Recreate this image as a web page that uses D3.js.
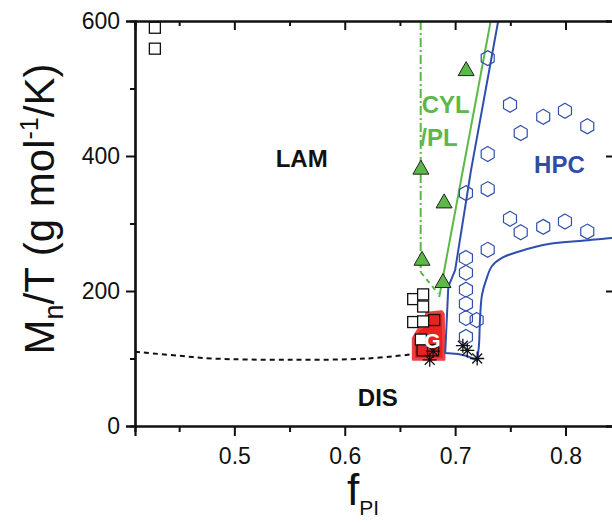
<!DOCTYPE html>
<html><head><meta charset="utf-8">
<script src="https://cdn.jsdelivr.net/npm/d3@7"></script>
<style>
html,body{margin:0;padding:0;background:#fff;}
svg{display:block;}
text{font-family:"Liberation Sans",Arial,sans-serif;}
</style></head>
<body>
<svg id="chart" width="612" height="523"></svg>
<script>
// ---- data ----
const xTicks = [0.5, 0.6, 0.7, 0.8];
const xMinorTicks = [0.45, 0.55, 0.65, 0.75, 0.85];
const yTicks = [0, 200, 400, 600];
const yMinorTicks = [100, 300, 500];

// LAM (open squares)
const lamSquares = [[0.428,590],[0.428,559],[0.662,188],[0.671,195],[0.671,177],[0.662,154],[0.671,155],[0.669,128]];
// squares inside the G region, filled
const gSquares = [[0.681,157],[0.6705,112],[0.680,112]];
// CYL/PL (triangles)
const cylTriangles = [[0.669,382],[0.690,332],[0.670,247],[0.689,214],[0.710,528]];
// HPC (hexagons)
const hpcHexagons = [[0.7295,545],[0.7497,476],[0.7798,458],[0.7995,467],[0.8197,444],[0.7594,434],
  [0.7295,403],[0.7295,351],[0.7098,345],[0.7497,307],[0.7594,287],[0.7798,295],[0.7995,303],[0.8197,288],
  [0.7295,261],[0.7098,249],[0.7098,227],[0.7098,202],[0.7098,181],[0.7098,160],[0.7195,157],[0.7098,132]];
// DIS (asterisks)
const disStars = [[0.707,119],[0.711,112],[0.720,100],[0.677,98],[0.680,111]];

// boundaries
const odtLine = [[0.41,110],[0.45,104],[0.48,100],[0.55,98],[0.62,100],[0.66,106]];
const cylLeftBoundary = [[0.6688,600],[0.6688,228]];
const cylLeftDiag = [[0.6688,228],[0.6847,196]];
const cylRightBoundary = [[0.6856,191],[0.7322,600]];
const hpcLeftBoundary = [[0.739,600],[0.7144,379],[0.700,231],[0.6938,206],[0.691,108],[0.7028,106.7],[0.7104,103.7],[0.7195,97.8]];
const hpcLowerBoundary = [[0.7198,95],[0.7216,120],[0.7225,157],[0.7243,194],[0.728,216],[0.7334,237],[0.7424,249],[0.7587,259],[0.7859,270],[0.813,274],[0.842,278.5],[0.86,280]];
const gRegion = [[0.6621,98.8],[0.6621,129.9],[0.6666,142.2],[0.6727,149.6],[0.6742,166.9],[0.6878,169.3],[0.6893,165.9],[0.6899,98.8]];

const labels = [
  {t:"LAM", x:0.561, y:383, c:"#111"},
  {t:"DIS", x:0.630, y:29, c:"#111"},
  {t:"HPC", x:0.7945, y:375, c:"#2e4da3"}
];

// ---- scales ----
const svg = d3.select("#chart");
const x = d3.scaleLinear().domain([0.41, 0.845]).range([135, 615.2]);
const y = d3.scaleLinear().domain([0, 600]).range([426, 21]);

const BLUE = "#2f4fae", GREEN = "#5cb947", RED = "#e8231f";

svg.append("defs").append("clipPath").attr("id","clip")
  .append("rect").attr("x",135).attr("y",21).attr("width",480).attr("height",405);
const plot = svg.append("g").attr("clip-path","url(#clip)");
const line = d3.line().x(d=>x(d[0])).y(d=>y(d[1]));
const closed = d3.line().x(d=>x(d[0])).y(d=>y(d[1])).curve(d3.curveLinearClosed);
const smooth = d3.line().x(d=>x(d[0])).y(d=>y(d[1])).curve(d3.curveCatmullRom.alpha(0.5));

// G region
plot.append("path").datum(gRegion).attr("d", closed)
  .attr("fill", RED).attr("stroke", "#f04040").attr("stroke-width", 3).attr("stroke-linejoin","round");

// lines
plot.append("path").datum(odtLine).attr("d", smooth).attr("fill","none")
  .attr("stroke","#111").attr("stroke-width",2).attr("stroke-dasharray","5,4");
plot.append("path").datum(cylLeftBoundary).attr("d", line).attr("fill","none")
  .attr("stroke",GREEN).attr("stroke-width",2).attr("stroke-dasharray","9,3,2,3");
plot.append("path").datum(cylLeftDiag).attr("d", line).attr("fill","none")
  .attr("stroke",GREEN).attr("stroke-width",2).attr("stroke-dasharray","5,4");
plot.append("path").datum(cylRightBoundary).attr("d", line).attr("fill","none")
  .attr("stroke",GREEN).attr("stroke-width",2);
plot.append("path").datum(hpcLeftBoundary).attr("d", line).attr("fill","none")
  .attr("stroke",BLUE).attr("stroke-width",2).attr("stroke-linejoin","round");
plot.append("path").datum(hpcLowerBoundary).attr("d", smooth).attr("fill","none")
  .attr("stroke",BLUE).attr("stroke-width",2);

// squares
const sq = 11;
plot.selectAll(".sq").data(lamSquares).join("rect")
  .attr("x", d=>x(d[0])-sq/2).attr("y", d=>y(d[1])-sq/2).attr("width",sq).attr("height",sq)
  .attr("fill","#fff").attr("stroke","#111").attr("stroke-width",1.3);
plot.selectAll(".gsq").data(gSquares).join("rect")
  .attr("x", d=>x(d[0])-sq/2).attr("y", d=>y(d[1])-sq/2).attr("width",sq).attr("height",sq)
  .attr("fill",RED).attr("stroke","#111").attr("stroke-width",1.3);

// hexagons (pointy top)
const hexR = 7.5;
const hexPts = d3.range(6).map(i => { const a = Math.PI/3*i - Math.PI/2; return [hexR*Math.cos(a), hexR*Math.sin(a)]; });
plot.selectAll(".hex").data(hpcHexagons).join("polygon")
  .attr("points", d => hexPts.map(p => [x(d[0])+p[0], y(d[1])+p[1]].join(",")).join(" "))
  .attr("fill","none").attr("stroke",BLUE).attr("stroke-width",1.2);

// triangles
const triPath = "M0,-8 L8,6 L-8,6 Z";
plot.selectAll(".tri").data(cylTriangles).join("path")
  .attr("d", triPath).attr("transform", d=>`translate(${x(d[0])},${y(d[1])})`)
  .attr("fill", GREEN).attr("stroke","#222").attr("stroke-width",1);

// asterisks
const starR = 7;
const starPath = d3.range(4).map(i => { const a = Math.PI/4*i; const c=Math.cos(a)*starR, s=Math.sin(a)*starR; return `M${-c},${-s}L${c},${s}`; }).join("");
plot.selectAll(".star").data(disStars).join("path")
  .attr("d", starPath).attr("transform", d=>`translate(${x(d[0])},${y(d[1])})`)
  .attr("fill","none").attr("stroke","#111").attr("stroke-width",1.3);

// G label
plot.append("text").attr("x", x(0.6795)).attr("y", y(128)+8).attr("text-anchor","middle")
  .attr("font-size",21).attr("font-weight","bold").attr("fill","#fff").text("G");

// region labels
svg.selectAll(".lab").data(labels).join("text")
  .attr("x", d=>x(d.x)).attr("y", d=>y(d.y)).attr("text-anchor","middle")
  .attr("font-size",24).attr("font-weight","bold").attr("fill",d=>d.c).text(d=>d.t);
svg.append("text").attr("x", x(0.6697)).attr("y", y(464)).attr("font-size",24).attr("font-weight","bold")
  .attr("fill",GREEN).text("CYL");
svg.append("text").attr("x", x(0.6685)).attr("y", y(415)).attr("font-size",24).attr("font-weight","bold")
  .attr("fill",GREEN).text("/PL");

// ---- axes ----
svg.append("g").attr("transform","translate(0,426)")
  .call(d3.axisBottom(x).tickValues(xTicks).tickSize(10).tickPadding(12).tickFormat(d3.format(".1f")));
svg.append("g").attr("transform","translate(0,426)")
  .call(d3.axisBottom(x).tickValues(xMinorTicks).tickSize(6).tickFormat(""));
svg.append("g").attr("transform","translate(0,21)")
  .call(d3.axisBottom(x).tickValues(xTicks).tickSize(9).tickFormat(""));
svg.append("g").attr("transform","translate(0,21)")
  .call(d3.axisBottom(x).tickValues(xMinorTicks).tickSize(5).tickFormat(""));
svg.append("g").attr("transform","translate(135,0)")
  .call(d3.axisLeft(y).tickValues(yTicks).tickSize(9).tickPadding(6));
svg.append("g").attr("transform","translate(135,0)")
  .call(d3.axisLeft(y).tickValues(yMinorTicks).tickSize(5).tickFormat(""));
svg.append("g").attr("transform","translate(615,0)")
  .call(d3.axisLeft(y).tickValues(yTicks).tickSize(9).tickFormat(""));
svg.selectAll(".domain").attr("stroke","#111").attr("stroke-width",2.2);
svg.selectAll(".tick line").attr("stroke","#111").attr("stroke-width",2);
svg.selectAll(".tick text").attr("font-size",23).attr("fill","#111").attr("font-family","'Liberation Sans',Arial,sans-serif");

// axis titles
const yl = svg.append("text").attr("transform","translate(54,209) rotate(-90)")
  .attr("text-anchor","middle").attr("font-size",42).attr("fill","#111");
yl.append("tspan").text("M");
yl.append("tspan").attr("font-size",27).attr("dy",9).text("n");
yl.append("tspan").attr("dy",-9).text("/T (g mol");
yl.append("tspan").attr("font-size",25).attr("dy",-16).text("-1");
yl.append("tspan").attr("dy",16).text("/K)");

const xl = svg.append("text").attr("x",347).attr("y",505).attr("font-size",44).attr("fill","#111");
xl.append("tspan").text("f");
xl.append("tspan").attr("font-size",21).attr("dy",10).text("PI");
</script>
</body></html>
